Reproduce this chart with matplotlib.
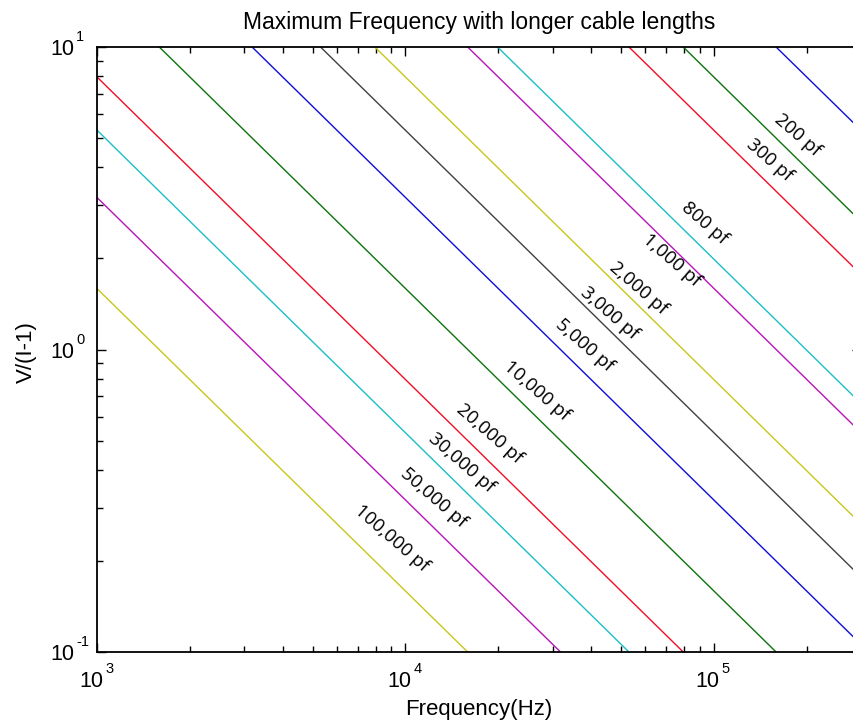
import matplotlib
matplotlib.use("Agg")
import matplotlib.pyplot as plt
from matplotlib import font_manager
from matplotlib.ticker import LogLocator, NullFormatter

# ---- data ----
capacitance_pf = [100, 200, 300, 800, 1000, 2000, 3000, 5000, 10000, 20000, 30000, 50000, 100000]
# entry point of each line into the plot frame (Hz, V/(I-1))
start_hz = [159155, 79577, 53052, 19894, 15915, 7958, 5305, 3183, 1592, 1000, 1000, 1000, 1000]
start_v = [10, 10, 10, 10, 10, 10, 10, 10, 10, 7.96, 5.31, 3.18, 1.59]
# exit point of each line out of the plot frame
end_hz = [300000, 300000, 300000, 300000, 300000, 300000, 300000, 300000, 159155, 79577, 53052, 31831, 15915]
end_v = [5.31, 2.65, 1.77, 0.663, 0.531, 0.265, 0.177, 0.106, 0.1, 0.1, 0.1, 0.1, 0.1]

label_text = ["", "200 pf", "300 pf", "800 pf", "1,000 pf", "2,000 pf", "3,000 pf", "5,000 pf",
              "10,000 pf", "20,000 pf", "30,000 pf", "50,000 pf", "100,000 pf"]
label_hz = [None, 1.87e5, 1.52e5, 9.35e4, 7.31e4, 5.68e4, 4.60e4, 3.82e4, 2.67e4, 1.88e4, 1.52e4, 1.23e4, 9.04e3]
label_v = [None, 5.11, 4.23, 2.61, 1.97, 1.59, 1.316, 1.03, 0.731, 0.527, 0.422, 0.324, 0.237]

x_tick_exponents = ["3", "4", "5"]
y_tick_exponents = ["-1", "0", "1"]

colors = [(0.05, 0.05, 0.85), (0.05, 0.45, 0.05), (0.95, 0.05, 0.15), (0.1, 0.75, 0.78),
          (0.72, 0.08, 0.72), (0.78, 0.78, 0.1), (0.25, 0.25, 0.25)]

names = {f.name for f in font_manager.fontManager.ttflist}
axfont = "Liberation Sans" if "Liberation Sans" in names else "DejaVu Sans"
tickfont, tick_big, tick_small = axfont, 15.5, 10.5
lblfont = "Open Sans" if "Open Sans" in names else "DejaVu Sans"

plt.rcParams["font.family"] = [axfont, "DejaVu Sans"]

fig = plt.figure(figsize=(8.54, 7.24), dpi=100)
W, H = 854, 724
left, right, top, bottom = 97, 861, 47, 652
ax = fig.add_axes([left / W, 1 - bottom / H, (right - left) / W, (bottom - top) / H])

for i, c in enumerate(capacitance_pf):
    ax.plot([start_hz[i], end_hz[i]], [start_v[i], end_v[i]],
            color=colors[i % len(colors)], lw=1.0)

ax.set_xscale("log")
ax.set_yscale("log")
ax.set_xlim(1e3, 3e5)
ax.set_ylim(0.1, 10)

for t, fx, vy in zip(label_text, label_hz, label_v):
    if t:
        ax.text(fx, vy, t, rotation=-41, rotation_mode="anchor", ha="center", va="center",
                fontsize=13.5, family=lblfont, color="black")

ax.xaxis.set_major_locator(LogLocator(base=10, numticks=10))
ax.xaxis.set_minor_locator(LogLocator(base=10, subs=range(2, 10), numticks=10))
ax.yaxis.set_major_locator(LogLocator(base=10, numticks=10))
ax.yaxis.set_minor_locator(LogLocator(base=10, subs=range(2, 10), numticks=10))
ax.xaxis.set_major_formatter(NullFormatter())
ax.yaxis.set_major_formatter(NullFormatter())
ax.xaxis.set_minor_formatter(NullFormatter())
ax.yaxis.set_minor_formatter(NullFormatter())

ax.tick_params(which="both", direction="in", top=True, right=True, colors="black")
ax.tick_params(which="major", length=6.5, width=1.0)
ax.tick_params(which="minor", length=4, width=1.0)
for s in ax.spines.values():
    s.set_linewidth(1.3)

# MATLAB-style tick labels: "10" with a raised exponent
xt = ax.get_xaxis_transform()
for e in x_tick_exponents:
    v = 10.0 ** float(e)
    ax.annotate("10", xy=(v, 0), xycoords=xt, xytext=(6, -35), textcoords="offset pixels",
                ha="right", va="baseline", fontsize=tick_big, family=tickfont, annotation_clip=False)
    ax.annotate(e, xy=(v, 0), xycoords=xt, xytext=(8, -21), textcoords="offset pixels",
                ha="left", va="baseline", fontsize=tick_small, family=tickfont, annotation_clip=False)
yt = ax.get_yaxis_transform()
for e in y_tick_exponents:
    v = 10.0 ** float(e)
    ax.annotate("10", xy=(0, v), xycoords=yt, xytext=(-23, -8), textcoords="offset pixels",
                ha="right", va="baseline", fontsize=tick_big, family=tickfont, annotation_clip=False)
    ax.annotate(e, xy=(0, v), xycoords=yt, xytext=(-21, 6), textcoords="offset pixels",
                ha="left", va="baseline", fontsize=tick_small, family=tickfont, annotation_clip=False)

ax.set_title("Maximum Frequency with longer cable lengths", fontsize=16.5, pad=13)
ax.set_xlabel("Frequency(Hz)", fontsize=16)
ax.xaxis.set_label_coords(0.5, -0.077)
ax.set_ylabel("V/(I-1)", fontsize=16)
ax.yaxis.set_label_coords(-0.079, 0.496)

fig.savefig("out.png", dpi=100)
